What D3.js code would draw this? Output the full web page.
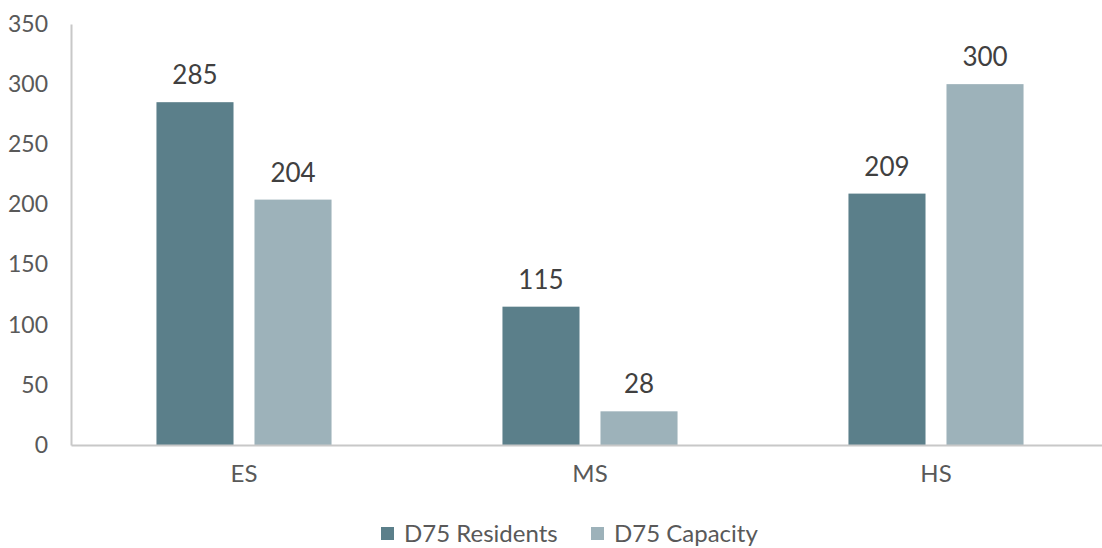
<!DOCTYPE html>
<html>
  <script src='https://d3js.org/d3.v7.min.js'></script>
  <style>
    body { margin: 0; background: #fff; }
  </style>
  <body onload='init()'>
<script>
      // ---------------------------
      // DATA
      // ---------------------------
      var categories = ["ES", "MS", "HS"];
      var seriesNames = ["D75 Residents", "D75 Capacity"];
      var residents = [285, 115, 209];
      var capacity = [204, 28, 300];
      var yTicks = [0, 50, 100, 150, 200, 250, 300, 350];

      function init() {
        // ---------------------------
        // CONSTANTS
        // ---------------------------
        var canvasWidth = 1102;
        var canvasHeight = 548;
        var myFont = "Lato, 'Open Sans', sans-serif";
        var textColour = "#595959";
        var axisColour = "#c8c8c8";
        var colours = ["#5b7f8a", "#9db2ba"];
        var plotLeft = 71;

        var svg = d3.select("body")
          .append("svg")
          .attr("width", canvasWidth)
          .attr("height", canvasHeight)
          .attr("font-family", myFont);

        // scales
        var x0 = d3.scaleBand().domain(categories).range([plotLeft, plotLeft + 1038])
          .paddingInner(0.494).paddingOuter(0.247);
        var x1 = d3.scaleBand().domain(seriesNames).range([0, x0.bandwidth()]).paddingInner(0.214);
        var y = d3.scaleLinear().domain([0, 350]).range([445, 24]);

        var rows = categories.map(function(c, i) {
          return { cat: c, values: [
            { name: seriesNames[0], value: residents[i], colour: colours[0] },
            { name: seriesNames[1], value: capacity[i], colour: colours[1] }
          ]};
        });

        // y axis
        var yAxis = svg.append("g")
          .attr("transform", "translate(" + plotLeft + ",0)")
          .call(d3.axisLeft(y).tickValues(yTicks).tickSize(0).tickPadding(23));
        yAxis.select(".domain").attr("stroke", axisColour).attr("stroke-width", 2);
        yAxis.selectAll("text").attr("fill", textColour).attr("font-size", 23)
          .attr("font-family", myFont);

        // bars
        var groups = svg.append("g").selectAll("g")
          .data(rows).enter().append("g")
          .attr("transform", function(d) { return "translate(" + x0(d.cat) + ",0)"; });

        groups.selectAll("rect")
          .data(function(d) { return d.values; })
          .enter().append("rect")
          .attr("x", function(d) { return x1(d.name); })
          .attr("y", function(d) { return y(d.value); })
          .attr("width", x1.bandwidth())
          .attr("height", function(d) { return y(0) - y(d.value); })
          .style("fill", function(d) { return d.colour; });

        // data labels
        groups.selectAll("text")
          .data(function(d) { return d.values; })
          .enter().append("text")
          .attr("x", function(d) { return x1(d.name) + x1.bandwidth() / 2; })
          .attr("y", function(d) { return y(d.value) - 18; })
          .attr("text-anchor", "middle")
          .attr("font-size", 26)
          .attr("fill", "#404040")
          .text(function(d) { return d.value; });

        // x axis
        var xAxis = svg.append("g")
          .attr("transform", "translate(0,445)")
          .call(d3.axisBottom(x0).tickSize(0).tickPadding(20));
        xAxis.select(".domain").attr("stroke", axisColour).attr("stroke-width", 2);
        xAxis.selectAll("text").attr("fill", textColour).attr("font-size", 24)
          .attr("font-family", myFont);

        // legend
        var legendX = [381, 591];
        var legend = svg.append("g").selectAll("g")
          .data(seriesNames).enter().append("g")
          .attr("transform", function(d, i) { return "translate(" + legendX[i] + ",527)"; });
        legend.append("rect")
          .attr("width", 13).attr("height", 13)
          .style("fill", function(d, i) { return colours[i]; });
        legend.append("text")
          .attr("x", 23).attr("y", 15)
          .attr("font-size", 24)
          .attr("fill", textColour)
          .text(function(d) { return d; });
      }
    </script>
  </body>
</html>
